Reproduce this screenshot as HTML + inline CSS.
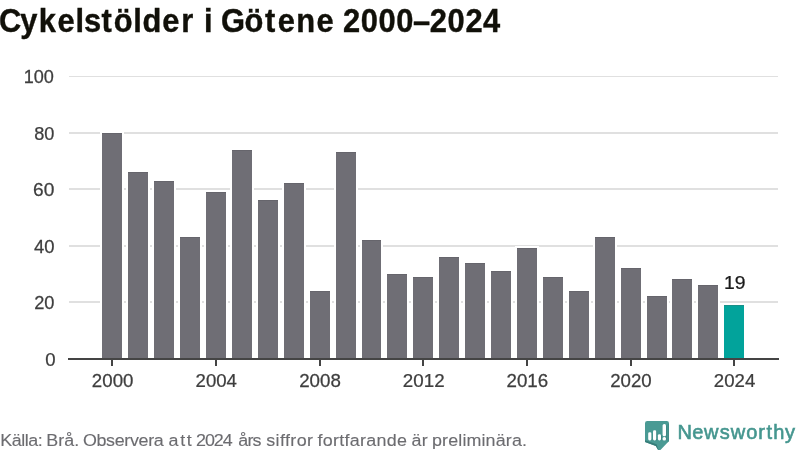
<!DOCTYPE html>
<html lang="sv">
<head>
<meta charset="utf-8">
<title>Cykelstölder i Götene 2000–2024</title>
<style>
html,body{margin:0;padding:0;background:#fff;}
body{width:800px;height:450px;overflow:hidden;position:relative;font-family:"Liberation Sans",sans-serif;}
svg{position:absolute;left:0;top:0;display:block;}
text{font-family:"Liberation Sans",sans-serif;white-space:pre;}
.tick{font-size:18.1px;fill:#3e3e3e;stroke:#3e3e3e;stroke-width:0.25px;}
.title{font-size:33.4px;fill:#111009;stroke:#111009;stroke-width:0.4px;font-weight:bold;}
.src{font-size:17px;fill:#6c6c70;stroke:#6c6c70;stroke-width:0.12px;}
.val{font-size:18.6px;fill:#1a1a1a;stroke:#1a1a1a;stroke-width:0.25px;}
.logo{font-size:20.8px;fill:#45968f;stroke:#45968f;stroke-width:0.6px;}
</style>
</head>
<body>
<svg width="800" height="450" viewBox="0 0 800 450">
<rect x="0" y="0" width="800" height="450" fill="#ffffff"/>
<text class="title" transform="translate(0 31.60) scale(0.9240 1)" x="-1.01 21.88 41.87 62.12 81.83 90.88 109.90 123.03 144.09 154.22 175.69 196.09 208.84 220.71 227.83 239.18 264.60 286.88 300.49 320.61 342.54 360.16 371.26 390.40 409.65 428.92 446.95 465.15 484.27 503.68 522.61">Cykelstölder i Götene 2000–2024</text>
<g shape-rendering="crispEdges" fill="#e0e0e0">
<rect x="69" y="76" width="709" height="1"/>
<rect x="69" y="132" width="709" height="2"/>
<rect x="69" y="188" width="709" height="2"/>
<rect x="69" y="245" width="709" height="2"/>
<rect x="69" y="301" width="709" height="2"/>
</g>
<g shape-rendering="crispEdges">
<rect x="100" y="131" width="24" height="227" fill="#ffffff"/><rect x="102" y="133" width="20" height="225" fill="#6f6e75"/><rect x="102" y="133" width="20" height="1" fill="#66656c"/>
<rect x="126" y="170" width="24" height="188" fill="#ffffff"/><rect x="128" y="172" width="20" height="186" fill="#6f6e75"/><rect x="128" y="172" width="20" height="1" fill="#66656c"/>
<rect x="152" y="179" width="24" height="179" fill="#ffffff"/><rect x="154" y="181" width="20" height="177" fill="#6f6e75"/><rect x="154" y="181" width="20" height="1" fill="#66656c"/>
<rect x="178" y="235" width="24" height="123" fill="#ffffff"/><rect x="180" y="237" width="20" height="121" fill="#6f6e75"/><rect x="180" y="237" width="20" height="1" fill="#66656c"/>
<rect x="204" y="190" width="24" height="168" fill="#ffffff"/><rect x="206" y="192" width="20" height="166" fill="#6f6e75"/><rect x="206" y="192" width="20" height="1" fill="#66656c"/>
<rect x="230" y="148" width="24" height="210" fill="#ffffff"/><rect x="232" y="150" width="20" height="208" fill="#6f6e75"/><rect x="232" y="150" width="20" height="1" fill="#66656c"/>
<rect x="256" y="198" width="24" height="160" fill="#ffffff"/><rect x="258" y="200" width="20" height="158" fill="#6f6e75"/><rect x="258" y="200" width="20" height="1" fill="#66656c"/>
<rect x="282" y="181" width="24" height="177" fill="#ffffff"/><rect x="284" y="183" width="20" height="175" fill="#6f6e75"/><rect x="284" y="183" width="20" height="1" fill="#66656c"/>
<rect x="308" y="289" width="24" height="69" fill="#ffffff"/><rect x="310" y="291" width="20" height="67" fill="#6f6e75"/><rect x="310" y="291" width="20" height="1" fill="#66656c"/>
<rect x="334" y="150" width="24" height="208" fill="#ffffff"/><rect x="336" y="152" width="20" height="206" fill="#6f6e75"/><rect x="336" y="152" width="20" height="1" fill="#66656c"/>
<rect x="360" y="238" width="23" height="120" fill="#ffffff"/><rect x="362" y="240" width="19" height="118" fill="#6f6e75"/><rect x="362" y="240" width="19" height="1" fill="#66656c"/>
<rect x="385" y="272" width="24" height="86" fill="#ffffff"/><rect x="387" y="274" width="20" height="84" fill="#6f6e75"/><rect x="387" y="274" width="20" height="1" fill="#66656c"/>
<rect x="411" y="275" width="24" height="83" fill="#ffffff"/><rect x="413" y="277" width="20" height="81" fill="#6f6e75"/><rect x="413" y="277" width="20" height="1" fill="#66656c"/>
<rect x="437" y="255" width="24" height="103" fill="#ffffff"/><rect x="439" y="257" width="20" height="101" fill="#6f6e75"/><rect x="439" y="257" width="20" height="1" fill="#66656c"/>
<rect x="463" y="261" width="24" height="97" fill="#ffffff"/><rect x="465" y="263" width="20" height="95" fill="#6f6e75"/><rect x="465" y="263" width="20" height="1" fill="#66656c"/>
<rect x="489" y="269" width="24" height="89" fill="#ffffff"/><rect x="491" y="271" width="20" height="87" fill="#6f6e75"/><rect x="491" y="271" width="20" height="1" fill="#66656c"/>
<rect x="515" y="246" width="24" height="112" fill="#ffffff"/><rect x="517" y="248" width="20" height="110" fill="#6f6e75"/><rect x="517" y="248" width="20" height="1" fill="#66656c"/>
<rect x="541" y="275" width="24" height="83" fill="#ffffff"/><rect x="543" y="277" width="20" height="81" fill="#6f6e75"/><rect x="543" y="277" width="20" height="1" fill="#66656c"/>
<rect x="567" y="289" width="24" height="69" fill="#ffffff"/><rect x="569" y="291" width="20" height="67" fill="#6f6e75"/><rect x="569" y="291" width="20" height="1" fill="#66656c"/>
<rect x="593" y="235" width="24" height="123" fill="#ffffff"/><rect x="595" y="237" width="20" height="121" fill="#6f6e75"/><rect x="595" y="237" width="20" height="1" fill="#66656c"/>
<rect x="619" y="266" width="24" height="92" fill="#ffffff"/><rect x="621" y="268" width="20" height="90" fill="#6f6e75"/><rect x="621" y="268" width="20" height="1" fill="#66656c"/>
<rect x="645" y="294" width="24" height="64" fill="#ffffff"/><rect x="647" y="296" width="20" height="62" fill="#6f6e75"/><rect x="647" y="296" width="20" height="1" fill="#66656c"/>
<rect x="670" y="277" width="24" height="81" fill="#ffffff"/><rect x="672" y="279" width="20" height="79" fill="#6f6e75"/><rect x="672" y="279" width="20" height="1" fill="#66656c"/>
<rect x="696" y="283" width="24" height="75" fill="#ffffff"/><rect x="698" y="285" width="20" height="73" fill="#6f6e75"/><rect x="698" y="285" width="20" height="1" fill="#66656c"/>
<rect x="722" y="303" width="24" height="55" fill="#ffffff"/><rect x="724" y="305" width="20" height="53" fill="#02a39b"/><rect x="724" y="305" width="20" height="1" fill="#1a8f88"/>
</g>
<g shape-rendering="crispEdges" fill="#444444">
<rect x="68" y="358" width="711" height="2"/>
<rect x="111" y="360" width="2" height="6"/>
<rect x="215" y="360" width="2" height="6"/>
<rect x="319" y="360" width="2" height="6"/>
<rect x="422" y="360" width="2" height="6"/>
<rect x="526" y="360" width="2" height="6"/>
<rect x="630" y="360" width="2" height="6"/>
<rect x="733" y="360" width="2" height="6"/>
</g>
<g>
<text class="tick" transform="translate(0 82.90) scale(1.0009 1)" x="23.63 33.69 43.75">100</text>
<text class="tick" transform="translate(0 140.40) scale(1.0033 1)" x="34.16 44.22">80</text>
<text class="tick" transform="translate(0 195.90) scale(1.0600 1)" x="31.23 41.35">60</text>
<text class="tick" transform="translate(0 253.40) scale(1.0201 1)" x="33.28 43.34">40</text>
<text class="tick" transform="translate(0 308.90) scale(1.0100 1)" x="33.81 43.87">20</text>
<text class="tick" transform="translate(0 366.40) scale(1.0254 1)" x="44.14">0</text>
</g>
<g>
<text class="tick" transform="translate(0 387.00) scale(1.0324 1)" x="88.99 99.05 109.12 119.18">2000</text>
<text class="tick" transform="translate(0 387.00) scale(1.0291 1)" x="190.01 200.07 210.14 220.20">2004</text>
<text class="tick" transform="translate(0 387.00) scale(1.0357 1)" x="288.88 298.94 309.00 319.07">2008</text>
<text class="tick" transform="translate(0 387.00) scale(1.0391 1)" x="387.71 397.78 407.84 417.90">2012</text>
<text class="tick" transform="translate(0 387.00) scale(1.0357 1)" x="489.06 499.12 509.18 519.24">2016</text>
<text class="tick" transform="translate(0 387.00) scale(1.0324 1)" x="591.05 601.11 611.17 621.23">2020</text>
<text class="tick" transform="translate(0 387.00) scale(1.0291 1)" x="693.68 703.74 713.80 723.87">2024</text>
</g>
<text class="val" transform="translate(0 288.50) scale(1.0426 1)" x="694.31 704.64">19</text>
<text class="src" transform="translate(0 445.80) scale(1.0531 1)" x="0.33 11.21 20.21 23.54 26.87 35.87 39.12 43.92 55.28 60.96 70.44 73.69 78.73 91.62 100.75 108.93 118.07 123.40 131.58 140.71 146.04 155.54 160.04 171.09 177.41 182.03 186.22 194.64 203.07 211.49 220.49 226.32 234.97 239.84 247.84 252.78 261.65 265.80 270.57 275.68 281.70 291.52 297.02 301.55 306.53 316.24 322.15 327.13 332.12 341.83 347.74 357.45 367.16 376.87 385.62 390.79 400.44 405.94 410.26 419.83 425.61 435.18 439.08 442.96 457.26 461.14 470.73 480.30 486.08 495.65">Källa: Brå. Observera att 2024 års siffror fortfarande är preliminära.</text>
<g>
<path d="M647.2 421 H666.8 Q669 421 669 423.2 V441 L659 451.5 L655.8 445.9 L645 442.1 V423.2 Q645 421 647.2 421 Z" fill="#4a9a94"/>
<path d="M645 440.2 L656.6 444.2 L659 451.5 L655.8 445.9 L645 442.1 Z" fill="#367d79"/>
<path d="M667.6 424 H669 V441 L667.6 442.4 Z" fill="#418d88"/>
<g fill="#3a827e" opacity="0.75">
<rect x="651.2" y="433.6" width="1.2" height="6.8"/>
<rect x="656" y="431.6" width="1.2" height="8.8"/>
<rect x="660.8" y="435.4" width="1.2" height="5"/>
<rect x="665.8" y="425.4" width="1.2" height="14.8"/>
</g>
<g fill="#ffffff">
<rect x="648.2" y="432.3" width="3.2" height="8.1" rx="1.4"/>
<rect x="653" y="430.3" width="3.2" height="10.1" rx="1.4"/>
<rect x="657.9" y="434.2" width="3.1" height="6.2" rx="1.4"/>
<rect x="662.6" y="424" width="3.4" height="12.2" rx="1.5"/>
<rect x="662.6" y="437.1" width="3.4" height="3.3" rx="1.5"/>
</g>
</g>
<text class="logo" transform="translate(0 438.70) scale(0.9637 1)" x="703.02 718.45 730.59 746.87 758.23 774.44 786.87 795.28 802.47 814.50">Newsworthy</text>
</svg>
</body>
</html>
